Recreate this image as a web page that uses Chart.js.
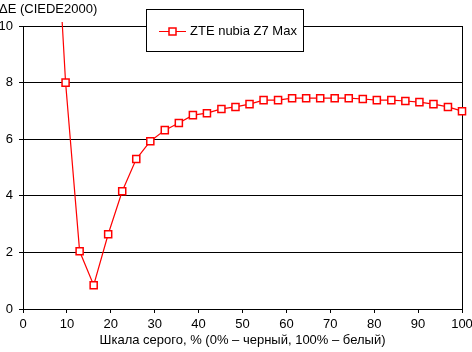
<!DOCTYPE html>
<html>
<head>
<meta charset="utf-8">
<script src="https://cdn.jsdelivr.net/npm/chart.js@4"></script>
<style>
  body { margin: 0; background: #fff; }
</style>
</head>
<body>
<canvas id="grayChart" width="472" height="352"></canvas>
<script>
const grayLevels = [6.5, 9.7, 12.9, 16.1, 19.4, 22.6, 25.8, 29.0, 32.3, 35.5, 38.7, 41.9, 45.2, 48.4, 51.6,
  54.8, 58.1, 61.3, 64.5, 67.7, 71.0, 74.2, 77.4, 80.6, 83.9, 87.1, 90.3, 93.5, 96.8, 100];
const deltaE = [16.8, 8.0, 2.04, 0.84, 2.64, 4.16, 5.30, 5.93, 6.32, 6.57, 6.85, 6.92, 7.07, 7.14, 7.24,
  7.38, 7.38, 7.45, 7.45, 7.45, 7.45, 7.45, 7.42, 7.38, 7.38, 7.35, 7.31, 7.24, 7.14, 6.99];
const seriesName = 'ZTE nubia Z7 Max';
const yAxisTitle = 'ΔE (CIEDE2000)';
const xAxisTitle = 'Шкала серого, % (0% – черный, 100% – белый)';

const fontFamily = '"Liberation Sans", Arial, sans-serif';

// titles and the boxed legend are drawn on top of the plot
const overlay = {
  id: 'overlay',
  afterDraw(chart) {
    const ctx = chart.ctx;
    const area = chart.chartArea;
    ctx.save();
    ctx.font = '13px ' + fontFamily;
    ctx.fillStyle = '#000';
    ctx.textBaseline = 'middle';
    ctx.textAlign = 'left';
    ctx.fillText(yAxisTitle, -1, 9);
    ctx.textAlign = 'center';
    ctx.fillText(xAxisTitle, (area.left + area.right) / 2, 340);

    // legend
    ctx.fillStyle = '#fff';
    ctx.fillRect(147, 10, 157, 42);
    ctx.strokeStyle = '#000';
    ctx.lineWidth = 1;
    ctx.strokeRect(146.5, 9.5, 157, 42);
    ctx.strokeStyle = '#ff0000';
    ctx.lineWidth = 1;
    ctx.beginPath();
    ctx.moveTo(159, 31.5);
    ctx.lineTo(186, 31.5);
    ctx.stroke();
    ctx.lineWidth = 1.5;
    ctx.fillStyle = '#fff';
    ctx.fillRect(169, 28, 7, 7);
    ctx.strokeRect(169, 28, 7, 7);
    ctx.fillStyle = '#000';
    ctx.textAlign = 'left';
    ctx.fillText(seriesName, 190, 31);
    ctx.restore();
  }
};

new Chart(document.getElementById('grayChart'), {
  type: 'line',
  data: {
    datasets: [{
      label: seriesName,
      data: grayLevels.map((x, i) => ({ x: x, y: deltaE[i] })),
      borderColor: '#ff0000',
      borderWidth: 1.2,
      backgroundColor: '#fff',
      pointStyle: 'rect',
      pointRadius: 5,
      pointBorderWidth: 1.5,
      pointBackgroundColor: '#fff',
      pointBorderColor: '#ff0000',
      tension: 0,
      clip: { left: 0, top: 4, right: 8, bottom: 8 }
    }]
  },
  plugins: [overlay],
  options: {
    responsive: false,
    animation: false,
    layout: { padding: { top: 26, right: 10, left: 0, bottom: 0 } },
    plugins: {
      legend: { display: false },
      tooltip: { enabled: false }
    },
    scales: {
      x: {
        type: 'linear',
        min: 0,
        max: 100,
        afterFit: (scale) => {
          scale.height = 43;
          scale.paddingLeft = 0;
          scale.paddingRight = 0;
        },
        ticks: {
          stepSize: 10,
          color: '#000',
          padding: 4,
          maxRotation: 0,
          font: { family: fontFamily, size: 13 }
        },
        grid: {
          color: (ctx) => ctx.tick && ctx.tick.value === 100 ? '#000' : 'rgba(0,0,0,0)',
          tickColor: '#000',
          tickLength: 4,
          lineWidth: 1
        },
        border: { color: '#000', width: 1 }
      },
      y: {
        min: 0,
        max: 10,
        afterFit: (scale) => {
          scale.width = 23;
          scale.paddingTop = 0;
          scale.paddingBottom = 0;
        },
        ticks: {
          stepSize: 2,
          color: '#000',
          padding: 6,
          font: { family: fontFamily, size: 13 }
        },
        grid: {
          color: '#000',
          tickColor: '#000',
          tickLength: 4,
          lineWidth: 1
        },
        border: { color: '#000', width: 1 }
      }
    }
  }
});
</script>
</body>
</html>
